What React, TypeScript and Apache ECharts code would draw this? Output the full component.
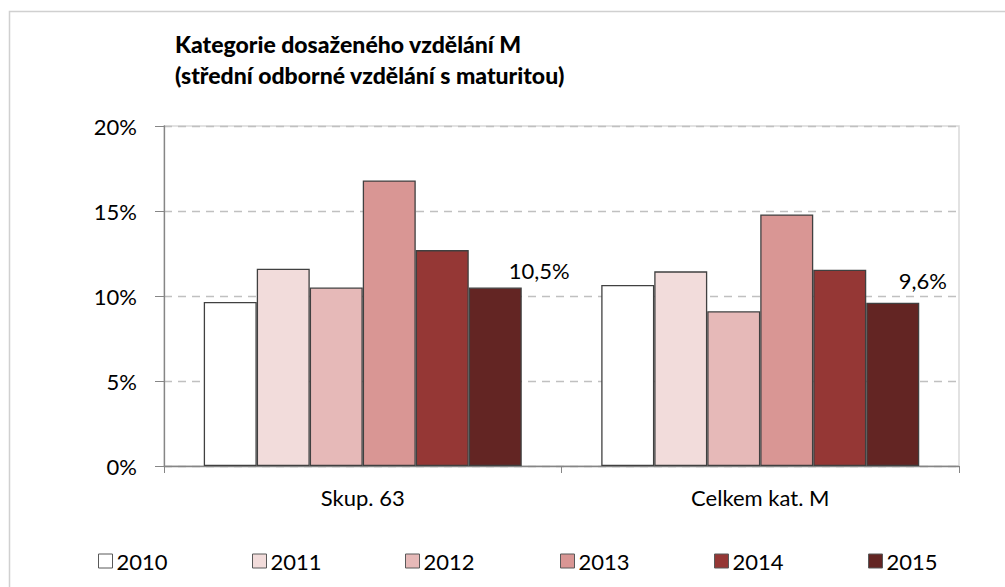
import React, { useEffect, useRef } from "react";
import * as echarts from "echarts";

const categories = ["Skup. 63", "Celkem kat. M"];
const years = ["2010", "2011", "2012", "2013", "2014", "2015"];
const s2010 = [9.65, 10.65];
const s2011 = [11.6, 11.45];
const s2012 = [10.5, 9.1];
const s2013 = [16.8, 14.8];
const s2014 = [12.7, 11.55];
const s2015 = [10.5, 9.6];
const seriesValues = [s2010, s2011, s2012, s2013, s2014, s2015];
const colors = ["#FFFFFF", "#F2DCDB", "#E6B9B8", "#D99694", "#953735", "#632523"];
const titleText = "Kategorie dosaženého vzdělání M\n(střední odborné vzdělání s maturitou)";

// style: label offsets for the 2015 data labels, legend item positions
const labelOffsets = [[44, -1], [30, -6]];
const legendLefts = [98, 252, 405, 560, 714, 868];

const FONT = "Lato";

export default function App() {
  const ref = useRef<HTMLDivElement>(null);
  useEffect(() => {
    if (!ref.current) return;
    const chart = echarts.init(ref.current, null, { renderer: "svg" });
    const fmt = (v: number) => v.toFixed(1).replace(".", ",") + "%";
    const series = years.map((y, si) => ({
      name: y,
      type: "bar",
      barGap: "0%",
      barCategoryGap: "20%",
      itemStyle: { color: colors[si], borderColor: "#404040", borderWidth: 1.3 },
      data: seriesValues[si].map((v, i) =>
        si === years.length - 1
          ? {
              value: v,
              label: {
                show: true,
                position: "top",
                offset: labelOffsets[i],
                formatter: () => fmt(v),
                fontFamily: FONT,
                fontSize: 22,
                color: "#000",
              },
            }
          : v
      ),
    }));
    chart.setOption({
      animation: false,
      textStyle: { fontFamily: FONT },
      title: {
        text: titleText,
        left: 175,
        top: 28,
        padding: 0,
        textStyle: { fontFamily: FONT, fontWeight: 900, fontSize: 23, lineHeight: 31, color: "#000" },
      },
      graphic: [
        {
          type: "rect",
          shape: { x: 9.5, y: 11.5, width: 2000, height: 2000 },
          style: { fill: "none", stroke: "#D0D0D0", lineWidth: 1.5 },
          silent: true,
        },
      ],
      legend: years.map((y, i) => ({
        data: [y],
        left: legendLefts[i],
        top: 550,
        padding: 0,
        icon: "rect",
        itemWidth: 14,
        itemHeight: 14,
        itemGap: 5,
        itemStyle: { borderColor: "#595959", borderWidth: 1 },
        textStyle: { fontFamily: FONT, fontSize: 22, color: "#000", padding: [0, 0, 0, -1] },
      })),
      grid: {
        left: 164,
        right: 46,
        top: 126,
        bottom: 121,
        show: true,
        borderColor: "#D9D9D9",
        borderWidth: 1.5,
        containLabel: false,
      },
      xAxis: {
        type: "category",
        data: categories,
        axisLine: { lineStyle: { color: "#868686", width: 1.3 } },
        axisTick: { show: true, length: 7, lineStyle: { color: "#868686" } },
        axisLabel: { fontFamily: FONT, fontSize: 22, color: "#000", margin: 20 },
      },
      yAxis: {
        type: "value",
        min: 0,
        max: 20,
        interval: 5,
        axisLine: { show: true, lineStyle: { color: "#868686", width: 1.3 } },
        axisTick: { show: true, length: 9, lineStyle: { color: "#868686" } },
        axisLabel: { fontFamily: FONT, fontSize: 22, color: "#000", margin: 27, formatter: "{value}%" },
        splitLine: { show: true, lineStyle: { color: "#C0C0C0", type: [8, 6], width: 1.3 } },
      },
      series,
    });
    return () => chart.dispose();
  }, []);
  return (
    <div
      ref={ref}
      style={{ position: "absolute", left: 0, top: 0, width: 1005, height: 587, background: "#fff" }}
    />
  );
}
